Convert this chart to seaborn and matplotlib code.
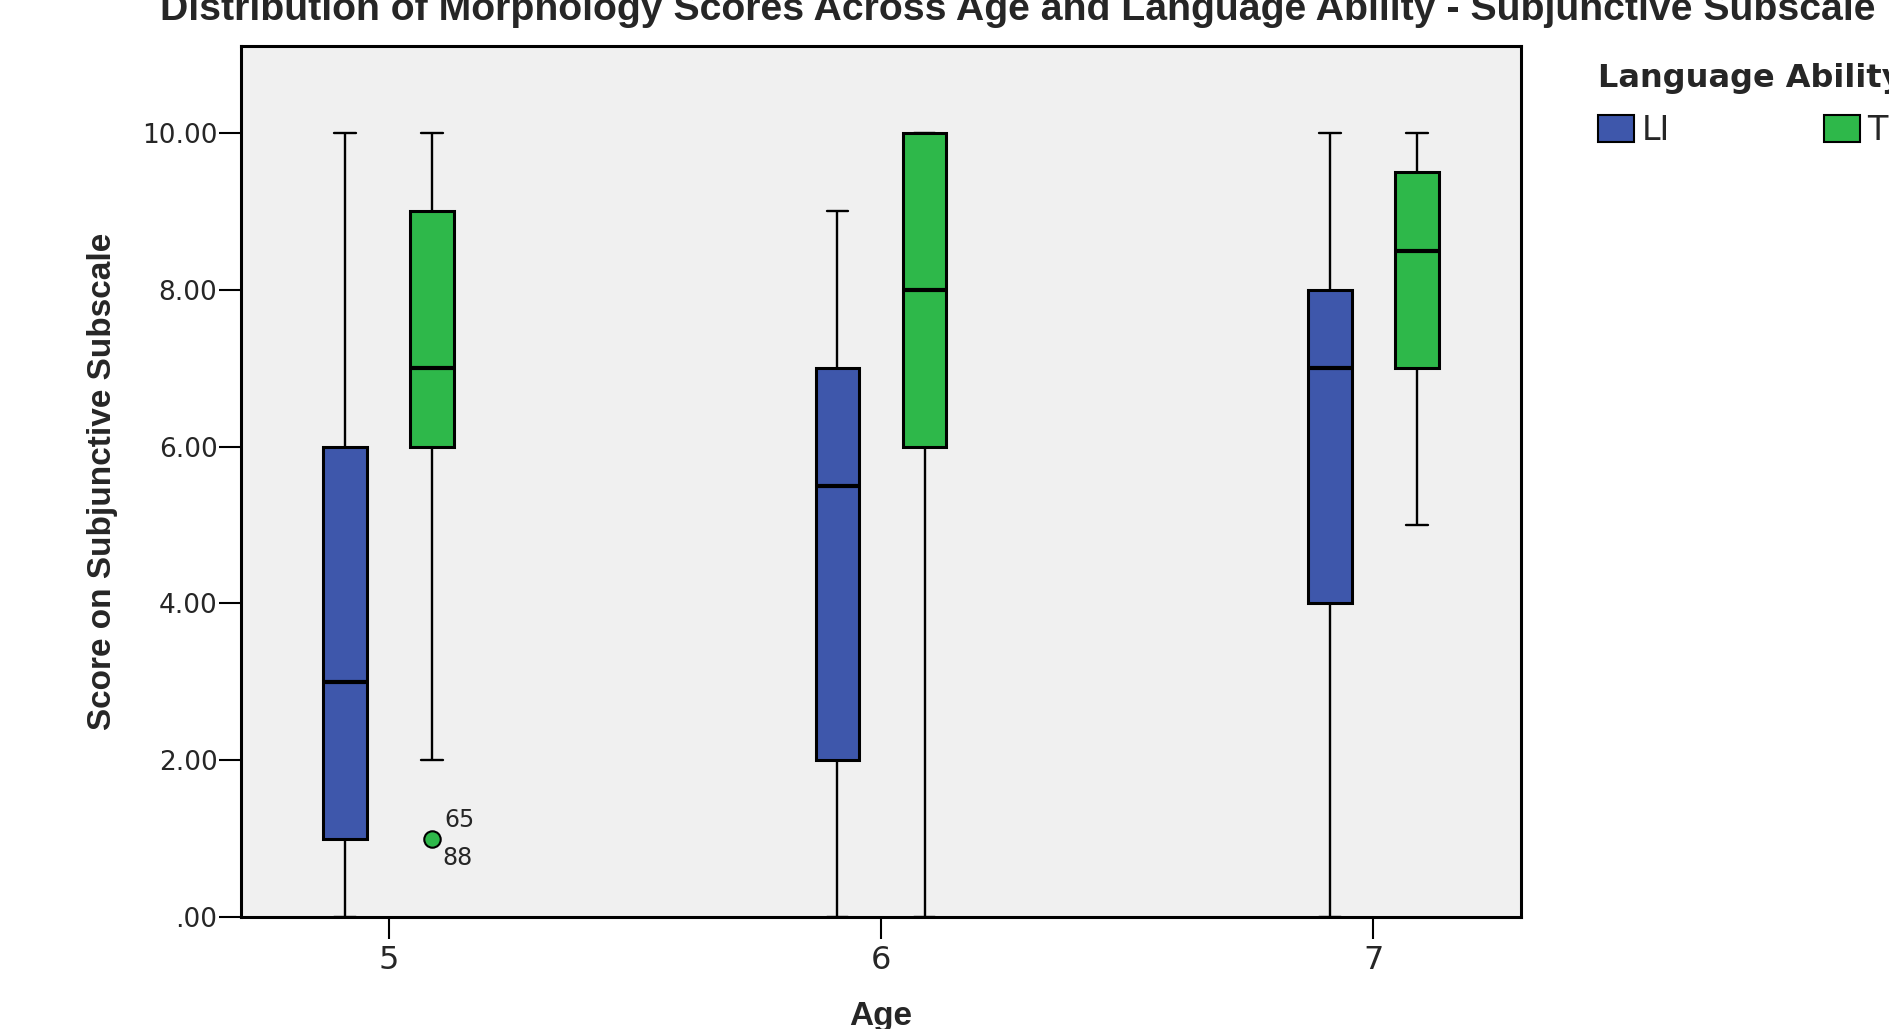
import numpy as np
import pandas as pd
import matplotlib
matplotlib.use("Agg")
import matplotlib.pyplot as plt
from matplotlib.patches import Patch
import seaborn as sns

# ---- data (box summaries) ----
ages = ["5", "5", "6", "6", "7", "7"]
abilities = ["LI", "TD", "LI", "TD", "LI", "TD"]
whisker_low = [0, 2, 0, 0, 0, 5]
q1 = [1, 6, 2, 6, 4, 7]
medians = [3, 7, 5.5, 8, 7, 8.5]
q3 = [6, 9, 7, 10, 8, 9.5]
whisker_high = [10, 10, 9, 10, 10, 10]

outlier_age = "5"
outlier_ability = "TD"
outlier_value = 1.0
outlier_cases = ["65", "88"]

age_order = ["5", "6", "7"]
hue_order = ["LI", "TD"]
palette = {"LI": "#3E57AB", "TD": "#2EB84A"}
y_ticks = [0, 2, 4, 6, 8, 10]
y_tick_labels = [".00", "2.00", "4.00", "6.00", "8.00", "10.00"]

title = "Distribution of Morphology Scores Across Age and Language Ability - Subjunctive Subscale"
x_label = "Age"
y_label = "Score on Subjunctive Subscale"
legend_title = "Language Ability"

# long-form table: each group's five summary values as observations
rows = []
for a, h, lo, b1, m, b3, hi in zip(ages, abilities, whisker_low, q1, medians, q3, whisker_high):
    for v in (lo, b1, m, b3, hi):
        rows.append({"Age": a, "Language Ability": h, "Score": v})
df = pd.DataFrame(rows)

sns.set_style("white")
plt.rcParams["font.family"] = ["DejaVu Sans"]
bold_family = "Liberation Sans"

W, H = 1890, 1029
fig = plt.figure(figsize=(W / 100, H / 100), dpi=100)
fig.patch.set_facecolor("white")
ax = fig.add_axes([241 / W, 1 - 917 / H, (1521 - 241) / W, (917 - 46) / H])
ax.set_facecolor("#F0F0F0")

sns.boxplot(
    data=df, x="Age", y="Score", hue="Language Ability",
    order=age_order, hue_order=hue_order, palette=palette, saturation=1,
    width=0.354, gap=0.5, whis=np.inf, showfliers=False,
    linecolor="black", linewidth=2.0, legend=False, ax=ax,
    medianprops=dict(color="black", linewidth=3.0),
    whiskerprops=dict(color="black", linewidth=1.7),
    capprops=dict(color="black", linewidth=1.7),
    boxprops=dict(edgecolor="black", linewidth=2.2),
)

# locate the TD box at age 5 from the drawn artists to place the outlier
o_idx = age_order.index(outlier_age)
td_rgb = np.array(matplotlib.colors.to_rgb(palette[outlier_ability]))
cands = []
for p in ax.patches:
    fc = np.array(p.get_facecolor()[:3])
    ext = p.get_path().get_extents()
    cx = (ext.x0 + ext.x1) / 2
    cands.append((np.abs(fc - td_rgb).sum(), abs(cx - o_idx), cx))
cands.sort()
best_col = cands[0][0]
same = [c for c in cands if abs(c[0] - best_col) < 1e-6]
ox = min(same, key=lambda c: c[1])[2]

ax.scatter([ox], [outlier_value], s=140, color=palette[outlier_ability],
           edgecolor="black", linewidth=1.5, zorder=6, clip_on=False)
ax.annotate(outlier_cases[0], xy=(ox, outlier_value), xytext=(8.6, 8),
            textcoords="offset points", ha="left", va="baseline", fontsize=17)
ax.annotate(outlier_cases[1], xy=(ox, outlier_value), xytext=(7, -5),
            textcoords="offset points", ha="left", va="top", fontsize=17)

ax.set_xlim(-0.30, 2.30)
ax.set_ylim(0, 11.11)
ax.set_yticks(y_ticks)
ax.set_yticklabels(y_tick_labels)
ax.tick_params(axis="y", left=True, direction="out", length=16, width=1.5,
               color="black", labelsize=19, pad=1)
ax.tick_params(axis="x", bottom=True, direction="out", length=16, width=1.5,
               color="black", labelsize=23, pad=4)
for s in ax.spines.values():
    s.set_visible(True)
    s.set_color("black")
    s.set_linewidth(2.2)

ax.set_xlabel(x_label, family=bold_family, weight="bold", fontsize=24)
ax.set_ylabel(y_label, family=bold_family, weight="bold", fontsize=24)
ax.xaxis.set_label_coords(0.5, -0.097)
ax.yaxis.set_label_coords(-0.096, 0.5)

fig.text(160 / W, 1 - 20 / H, title, ha="left", va="baseline",
         family=bold_family, weight="bold", fontsize=28.3)

handles = [Patch(facecolor=palette[h], edgecolor="black", linewidth=1.5, label=h)
           for h in hue_order]
fs = 24
fig.legend(handles=handles, loc="upper left", bbox_to_anchor=(1598 / W, 1 - 63 / H),
           ncol=2, title=legend_title,
           title_fontproperties={"weight": "bold", "size": 23, "family": "DejaVu Sans"},
           prop={"size": fs}, alignment="left", frameon=False,
           handlelength=1.08, handleheight=0.9, handletextpad=0.24,
           columnspacing=4.6, borderpad=0, borderaxespad=0, labelspacing=0.6)

fig.savefig("out.png", dpi=100)
